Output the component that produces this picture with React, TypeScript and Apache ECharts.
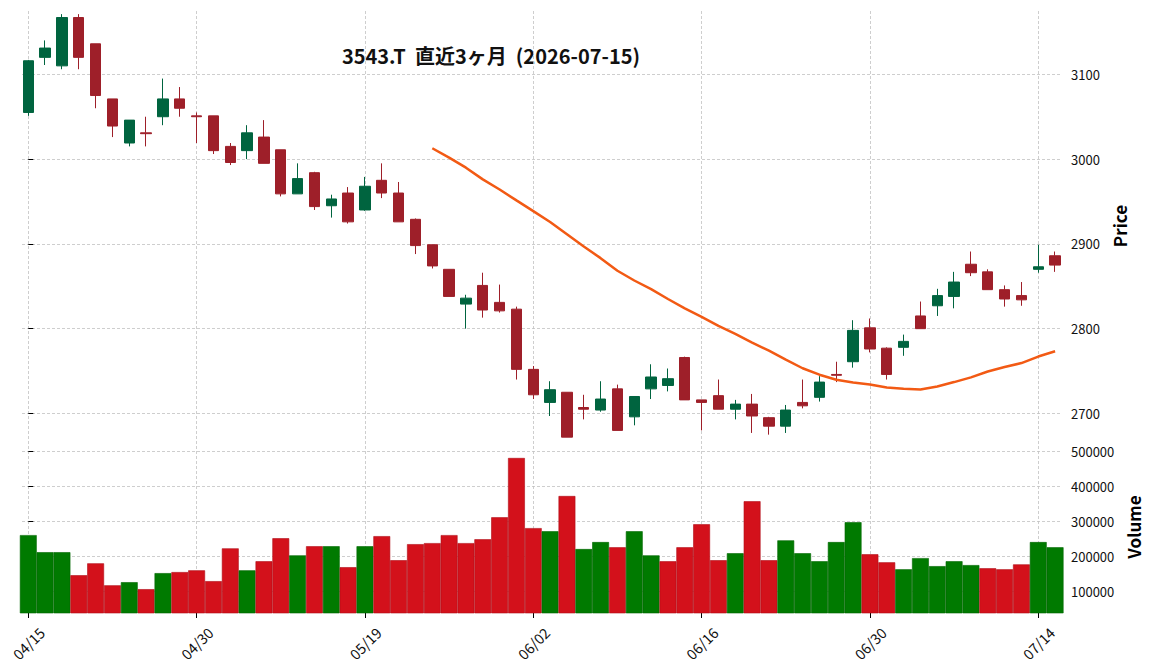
import React, { useEffect, useRef } from 'react';
import * as echarts from 'echarts';

const title = '3543.T  直近3ヶ月  (2026-07-15)';

const dates = [
  '04/15', '04/16', '04/17', '04/20', '04/21', '04/22', '04/23', '04/24', '04/27', '04/28',
  '04/30', '05/01', '05/07', '05/08', '05/11', '05/12', '05/13', '05/14', '05/15', '05/18',
  '05/19', '05/20', '05/21', '05/22', '05/25', '05/26', '05/27', '05/28', '05/29', '06/01',
  '06/02', '06/03', '06/04', '06/05', '06/08', '06/09', '06/10', '06/11', '06/12', '06/15',
  '06/16', '06/17', '06/18', '06/19', '06/22', '06/23', '06/24', '06/25', '06/26', '06/29',
  '06/30', '07/01', '07/02', '07/03', '07/06', '07/07', '07/08', '07/09', '07/10', '07/13',
  '07/14', '07/15',
];

const opens = [
  3055, 3120, 3110, 3167, 3136, 3071, 3019, 3031, 3050, 3071,
  3051, 3051, 3015, 3010, 3026, 3011, 2959, 2984, 2945, 2960,
  2940, 2975, 2960, 2929, 2899, 2870, 2829, 2851, 2831, 2823,
  2752, 2713, 2725, 2707, 2704, 2729, 2696, 2729, 2733, 2766,
  2716, 2721, 2705, 2711, 2695, 2685, 2713, 2719, 2746, 2761,
  2801, 2777, 2778, 2815, 2827, 2838, 2876, 2867, 2846, 2839,
  2870, 2886,
];
const closes = [
  3116, 3131, 3167, 3120, 3075, 3039, 3046, 3030, 3071, 3060,
  3050, 3010, 2996, 3031, 2995, 2959, 2977, 2944, 2953, 2926,
  2968, 2960, 2926, 2898, 2874, 2838, 2836, 2822, 2821, 2752,
  2722, 2728, 2672, 2705, 2717, 2680, 2720, 2743, 2741, 2716,
  2713, 2705, 2711, 2697, 2685, 2704, 2709, 2737, 2745, 2798,
  2776, 2746, 2785, 2800, 2839, 2855, 2866, 2846, 2835, 2834,
  2873, 2875,
];
const lows = [
  3051, 3111, 3106, 3106, 3060, 3026, 3015, 3015, 3040, 3050,
  3019, 3006, 2993, 3000, 2995, 2956, 2959, 2940, 2931, 2924,
  2939, 2954, 2926, 2888, 2871, 2838, 2800, 2813, 2819, 2740,
  2717, 2697, 2672, 2693, 2702, 2680, 2686, 2717, 2726, 2716,
  2680, 2705, 2693, 2677, 2675, 2677, 2706, 2714, 2737, 2754,
  2772, 2740, 2768, 2800, 2815, 2824, 2862, 2846, 2826, 2827,
  2866, 2867,
];
const highs = [
  3117, 3140, 3171, 3171, 3136, 3071, 3046, 3050, 3095, 3085,
  3055, 3051, 3019, 3040, 3046, 3011, 2995, 2985, 2958, 2967,
  2979, 2995, 2973, 2930, 2899, 2870, 2840, 2866, 2852, 2826,
  2756, 2738, 2725, 2722, 2738, 2734, 2720, 2758, 2753, 2767,
  2716, 2740, 2716, 2723, 2696, 2710, 2740, 2744, 2761, 2810,
  2812, 2778, 2793, 2832, 2847, 2867, 2891, 2870, 2851, 2855,
  2899, 2891,
];
const volumes = [
  261000, 212000, 212000, 146000, 180000, 117000, 126000, 106000, 152000, 155000,
  160000, 129000, 223000, 160000, 186000, 252000, 203000, 229000, 229000, 169000,
  229000, 258000, 189000, 235000, 238000, 261000, 238000, 249000, 312000, 482000,
  281000, 272000, 373000, 221000, 241000, 226000, 272000, 203000, 186000, 226000,
  292000, 189000, 209000, 358000, 189000, 246000, 209000, 186000, 241000, 298000,
  206000, 183000, 163000, 195000, 172000, 186000, 175000, 166000, 163000, 177000,
  241000, 226000,
];

// 25-day moving average (first point at the 25th session)
const maStart = 24;
const ma25 = [
  3012.8, 3001.7, 2989.9, 2976.1, 2964.2, 2951.3, 2938.6, 2925.9, 2911.5, 2896.9,
  2883.2, 2868.3, 2856.8, 2846.6, 2835.0, 2823.9, 2814.0, 2803.2, 2793.8, 2783.6,
  2774.0, 2763.4, 2753.3, 2745.7, 2739.7, 2736.6, 2734.2, 2730.6, 2729.1, 2728.2,
  2731.7, 2737.0, 2742.6, 2749.5, 2754.7, 2759.4, 2767.1, 2773.3,
];

const xTickIdx = [0, 10, 20, 30, 40, 50, 60];
const priceTicks = [2700, 2800, 2900, 3000, 3100];
const volumeTicks = [100000, 200000, 300000, 400000, 500000];

const FONT = '"Noto Sans CJK JP", "Noto Sans", sans-serif';
const UP = '#00643F';
const DOWN = '#9E1F29';
const VOL_UP = '#007A00';
const VOL_DOWN = '#D3111B';
const MA_COLOR = '#F25A14';

export default function App() {
  const ref = useRef<HTMLDivElement>(null);

  useEffect(() => {
    if (!ref.current) return;
    const chart = echarts.init(ref.current, null, { renderer: 'svg' });

    const xMin = -0.374;
    const xMax = 61.35;
    const gridLine = {
      show: true,
      lineStyle: { color: '#c2c2c2', type: [3, 2] as any, width: 0.8 },
    };
    const labelStyle = { color: '#111', fontFamily: FONT };
    const plain = (v: number) => String(Math.round(v));

    const candleData = dates.map((_, i) => [i, opens[i], closes[i], lows[i], highs[i]]);
    const volData = volumes.map((v, i) => {
      const up = i === 0 ? closes[i] >= opens[i] : closes[i] >= closes[i - 1];
      return {
        value: [i, v],
        itemStyle: {
          color: up ? VOL_UP : VOL_DOWN,
          borderColor: up ? '#006600' : '#B00E17',
          borderWidth: 0.6,
        },
      };
    });
    const maData = ma25.map((v, k) => [maStart + k, v]);

    const option: any = {
      animation: false,
      backgroundColor: '#ffffff',
      textStyle: { fontFamily: FONT },
      graphic: [
        {
          type: 'text',
          x: 491,
          y: 55,
          style: {
            text: title,
            font: 'bold 20px "Noto Sans CJK JP"',
            fill: '#111',
            align: 'center',
            verticalAlign: 'middle',
            textAlign: 'center',
            textVerticalAlign: 'middle',
          },
        },
      ],
      grid: [
        { left: 22, right: 91, top: 11, height: 430 },
        { left: 22, right: 91, top: 441, height: 172 },
      ],
      xAxis: [
        {
          type: 'value',
          gridIndex: 0,
          min: xMin,
          max: xMax,
          axisLine: { show: false },
          axisTick: { show: false, customValues: xTickIdx },
          axisLabel: { show: false, customValues: xTickIdx },
          splitLine: gridLine,
        },
        {
          type: 'value',
          gridIndex: 1,
          min: xMin,
          max: xMax,
          axisLine: { show: false },
          axisTick: { show: true, customValues: xTickIdx, length: 5, lineStyle: { color: '#000', width: 1 } },
          axisLabel: {
            ...labelStyle,
            customValues: xTickIdx,
            formatter: (v: number) => dates[Math.round(v)] ?? '',
            rotate: 45,
            align: 'center',
            verticalAlign: 'middle',
            margin: 30,
            fontSize: 14.5,
          },
          splitLine: gridLine,
        },
      ],
      yAxis: [
        {
          type: 'value',
          gridIndex: 0,
          position: 'right',
          min: 2667.5,
          max: 3174.7,
          axisLine: { show: false },
          axisTick: { show: true, customValues: priceTicks, length: 5, lineStyle: { color: '#000', width: 1 } },
          axisLabel: { ...labelStyle, customValues: priceTicks, margin: 10, fontSize: 13, formatter: plain },
          splitLine: gridLine,
          name: 'Price',
          nameLocation: 'middle',
          nameRotate: 90,
          nameGap: 50,
          nameTextStyle: { fontSize: 17, fontWeight: 'bold', color: '#000', fontFamily: FONT },
        },
        {
          type: 'value',
          gridIndex: 1,
          position: 'right',
          min: 37700,
          max: 530700,
          axisLine: { show: false },
          axisTick: { show: true, customValues: volumeTicks, length: 5, lineStyle: { color: '#000', width: 1 } },
          axisLabel: { ...labelStyle, customValues: volumeTicks, margin: 10, fontSize: 13, formatter: plain },
          splitLine: gridLine,
          name: 'Volume',
          nameLocation: 'middle',
          nameRotate: 90,
          nameGap: 64,
          nameTextStyle: { fontSize: 17, fontWeight: 'bold', color: '#000', fontFamily: FONT },
        },
      ],
      series: [
        {
          type: 'candlestick',
          xAxisIndex: 0,
          yAxisIndex: 0,
          data: candleData,
          barWidth: '65%',
          itemStyle: {
            color: UP,
            color0: DOWN,
            borderColor: UP,
            borderColor0: DOWN,
            borderWidth: 1,
          },
        },
        {
          type: 'line',
          xAxisIndex: 0,
          yAxisIndex: 0,
          data: maData,
          showSymbol: false,
          symbol: 'none',
          lineStyle: { color: MA_COLOR, width: 2.5 },
          z: 3,
        },
        {
          type: 'bar',
          xAxisIndex: 1,
          yAxisIndex: 1,
          data: volData,
          barWidth: '100%',
          clip: true,
        },
      ],
    };

    chart.setOption(option);
    return () => chart.dispose();
  }, []);

  return (
    <div
      ref={ref}
      style={{ position: 'fixed', left: 0, top: 0, width: 1152, height: 670, background: '#fff' }}
    />
  );
}
